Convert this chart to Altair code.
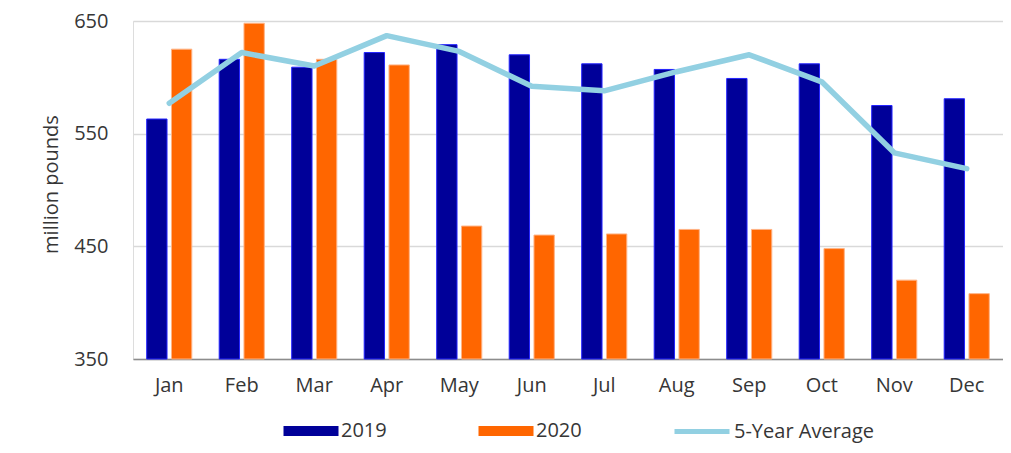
import altair as alt
import pandas as pd

months = ["Jan", "Feb", "Mar", "Apr", "May", "Jun", "Jul", "Aug", "Sep", "Oct", "Nov", "Dec"]
v2019 = [563, 616, 609, 622, 629, 620, 612, 607, 599, 612, 575, 581]
v2020 = [625, 648, 616, 611, 468, 460, 461, 465, 465, 448, 420, 408]
avg5 = [577, 622, 610, 637, 623, 592, 588, 605, 620, 596, 533, 519]
bar_series = ["2019", "2020"]
line_series = "5-Year Average"
y_ticks = [350, 450, 550, 650]

rows = []
for m, a, b in zip(months, v2019, v2020):
    rows.append({"month": m, "series": "2019", "value": a})
    rows.append({"month": m, "series": "2020", "value": b})
bars_df = pd.DataFrame(rows)
line_df = pd.DataFrame({"month": months, "avg": avg5, "series": [line_series] * len(months)})

FONT = "Open Sans"
TXT = "#363636"

xs = alt.Scale(paddingInner=0.378, paddingOuter=0.189)
ys = alt.Scale(domain=[350, 650], nice=False, zero=False)

rect_path = "M-1,-0.18L1,-0.18L1,0.18L-1,0.18Z"

bar_legend = alt.Legend(
    title=None, orient="none", legendX=150, legendY=382, direction="horizontal",
    columns=2, padding=0, symbolType=rect_path, symbolSize=3025,
    symbolStrokeWidth=1, symbolOpacity=1,
    labelFont=FONT, labelFontSize=20, labelColor=TXT, labelOffset=2, columnPadding=91,
)
line_legend = alt.Legend(
    title=None, orient="none", legendX=539, legendY=380.5, direction="horizontal",
    padding=0, symbolType="stroke", symbolSize=3025, symbolStrokeWidth=5,
    labelFont=FONT, labelFontSize=20, labelColor=TXT, labelOffset=2, labelLimit=300,
)

bars = alt.Chart(bars_df).mark_bar(strokeWidth=1).encode(
    x=alt.X("month:N", sort=months, scale=xs,
            axis=alt.Axis(title=None, labelAngle=0, ticks=False, domainColor="#8C8C8C",
                          domainWidth=1.5, labelFont=FONT, labelFontSize=20, labelColor=TXT,
                          labelPadding=16, grid=False)),
    xOffset=alt.XOffset("series:N", scale=alt.Scale(paddingInner=0.18, paddingOuter=0)),
    y=alt.Y("value:Q", scale=ys,
            axis=alt.Axis(title="million pounds", values=y_ticks, grid=True, gridColor="#D9D9D9",
                          gridWidth=1.5, domain=False, ticks=False, labelPadding=25,
                          labelFont=FONT, labelFontSize=20, labelColor=TXT,
                          titleFont=FONT, titleFontSize=20, titleFontWeight="normal",
                          titleColor=TXT, titleX=-76, titleY=163, titleAngle=-90,
                          titleBaseline="alphabetic", titleAlign="center")),
    y2=alt.datum(350),
    color=alt.Color("series:N", scale=alt.Scale(domain=bar_series,
                                                 range=["#000099", "#FF6600"]),
                    legend=bar_legend),
    stroke=alt.Stroke("series:N", scale=alt.Scale(domain=bar_series,
                                                   range=["#2424FF", "#FFB385"]), legend=None),
)

line = alt.Chart(line_df).mark_line(strokeWidth=5.5, strokeCap="round",
                                    strokeJoin="round").encode(
    x=alt.X("month:N", sort=months, scale=xs),
    y=alt.Y("avg:Q", scale=ys),
    stroke=alt.Stroke("series:N", scale=alt.Scale(domain=[line_series], range=["#92D0E2"]),
                      legend=line_legend),
)

chart = alt.layer(bars, line).resolve_scale(stroke="independent").resolve_legend(
    stroke="independent"
).properties(
    width=870, height=338,
    autosize=alt.AutoSizeParams(type="none"),
    padding={"left": 125, "top": 13, "right": 0, "bottom": 86},
).configure_view(stroke=None).configure(background="white")

chart.save("out.html", embed_options={"renderer": "svg", "actions": False})
